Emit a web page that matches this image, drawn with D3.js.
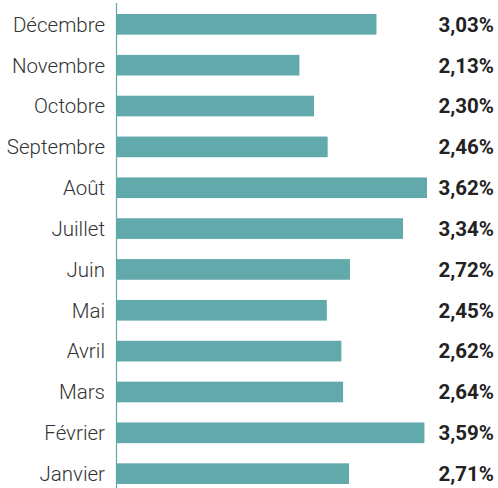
<!DOCTYPE html>
<html>
<head>
<meta charset="utf-8">
<script src="https://cdn.jsdelivr.net/npm/d3@7"></script>
<style>
  body { margin: 0; background: #fff; }
  svg { display: block; }
</style>
</head>
<body>
<svg id="chart"></svg>
<script>
// mois, de haut en bas
const months = ["Décembre", "Novembre", "Octobre", "Septembre", "Août", "Juillet",
  "Juin", "Mai", "Avril", "Mars", "Février", "Janvier"];
const rates = [3.03, 2.13, 2.30, 2.46, 3.62, 3.34, 2.72, 2.45, 2.62, 2.64, 3.59, 2.71];

const width = 498;
const height = 488;

const svg = d3.select("#chart")
  .attr("width", width)
  .attr("height", height);

const x = d3.scaleLinear()
  .domain([0, 3.62])
  .range([117, 427]);

const y = d3.scaleBand()
  .domain(months)
  .range([3.8, 494.2])
  .paddingInner(0.494)
  .paddingOuter(0.25);

const fmt = v => d3.format(".2f")(v).replace(".", ",") + "%";

// barres
svg.append("g")
  .selectAll("rect")
  .data(months)
  .join("rect")
  .attr("x", x(0))
  .attr("y", d => y(d))
  .attr("width", (d, i) => x(rates[i]) - x(0))
  .attr("height", y.bandwidth())
  .attr("fill", "#62a9ab");

// axe vertical
svg.append("line")
  .attr("x1", 116.5).attr("x2", 116.5)
  .attr("y1", 3).attr("y2", height)
  .attr("stroke", "#62a9ab")
  .attr("stroke-width", 1.2);

// libellés des mois
svg.append("g")
  .selectAll("text")
  .data(months)
  .join("text")
  .attr("x", 105)
  .attr("y", d => y(d) + y.bandwidth() / 2)
  .attr("dy", "0.36em")
  .attr("text-anchor", "end")
  .attr("font-family", "Roboto, sans-serif")
  .attr("font-weight", 300)
  .attr("font-size", 20.5)
  .attr("fill", "#333")
  .text(d => d);

// valeurs
svg.append("g")
  .selectAll("text")
  .data(rates)
  .join("text")
  .attr("x", 494)
  .attr("y", (d, i) => y(months[i]) + y.bandwidth() / 2)
  .attr("dy", "0.36em")
  .attr("text-anchor", "end")
  .attr("font-family", "Roboto, sans-serif")
  .attr("font-weight", "bold")
  .attr("font-size", 20.5)
  .attr("fill", "#222")
  .text(fmt);
</script>
</body>
</html>
